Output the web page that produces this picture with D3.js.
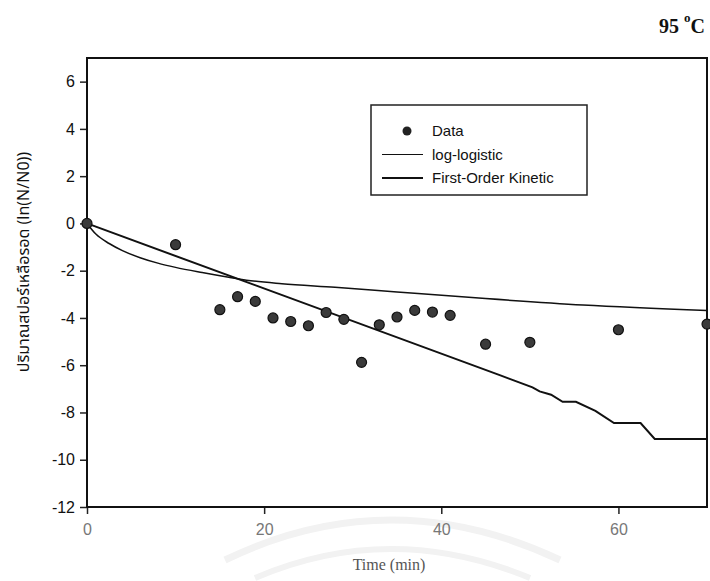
<!DOCTYPE html>
<html>
<head>
<meta charset="utf-8">
<script src="https://cdn.jsdelivr.net/npm/d3@7"></script>
<style>
  body { margin: 0; background: #fff; }
  svg { display: block; }
</style>
</head>
<body>
<div class="chart"></div>
<script>
// observed data (time in min, ln(N/N0))
const dataTime = [0, 10, 15, 17, 19, 21, 23, 25, 27, 29, 31, 33, 35, 37, 39, 41, 45, 50, 60, 70];
const dataLn   = [0, -0.9, -3.65, -3.1, -3.3, -4.0, -4.15, -4.33, -3.77, -4.06, -5.88, -4.29, -3.96, -3.68, -3.75, -3.89, -5.11, -5.03, -4.5, -4.26];

// log-logistic fit (thin line)
const logTime = [0, 1, 2.5, 4, 6, 8, 10, 13, 16, 18, 22, 28, 35, 45, 56, 70];
const logLn   = [0, -0.45, -0.85, -1.15, -1.45, -1.68, -1.86, -2.08, -2.28, -2.4, -2.55, -2.7, -2.9, -3.18, -3.45, -3.68];

// first-order kinetic fit (thicker line)
const foTime = [0, 46.6, 50.3, 51.1, 52.4, 53.7, 55.2, 57.4, 59.5, 62.5, 64.1, 70];
const foLn   = [0, -6.42, -6.94, -7.11, -7.25, -7.55, -7.55, -7.93, -8.45, -8.45, -9.12, -9.12];

const xTicks = [0, 20, 40, 60];
const yTicks = [-12, -10, -8, -6, -4, -2, 0, 2, 4, 6];

const W = 710, H = 581;
const margin = ({top: 58, right: 3, bottom: 74, left: 87});
const width = W - margin.left - margin.right,
      height = H - margin.top - margin.bottom;

const svg = d3.select(".chart").append("svg")
    .attr("width", W)
    .attr("height", H);

// faint watermark arcs
const wm = svg.append("g").attr("fill", "none").attr("stroke", "#f2f2f2");
wm.append("path").attr("d", "M 225 560 Q 390 480 560 560").attr("stroke-width", 7);
wm.append("path").attr("d", "M 255 578 Q 390 520 530 578").attr("stroke-width", 6);

const g = svg.append("g")
    .attr("transform", "translate(" + margin.left + "," + margin.top + ")");

const xScale = d3.scaleLinear().domain([0, 70]).range([0, width]);
const yScale = d3.scaleLinear().domain([-12, 7]).range([height, 0]);

// axes (plain hyphen for negatives like the original)
const xAxis = d3.axisBottom(xScale).tickValues(xTicks).tickSize(7).tickPadding(10)
    .tickFormat(d => String(d));
const yAxis = d3.axisLeft(yScale).tickValues(yTicks).tickSize(7).tickPadding(5)
    .tickFormat(d => String(d));

g.append("g")
    .attr("transform", "translate(0," + height + ")")
    .call(xAxis)
    .call(a => a.select(".domain").remove())
    .call(a => a.selectAll(".tick line").attr("stroke", "#222").attr("stroke-width", 1.5))
    .call(a => a.selectAll(".tick text")
        .attr("font-family", "Arial, 'Liberation Sans', sans-serif")
        .attr("font-size", 16)
        .attr("fill", "#777"));

g.append("g")
    .call(yAxis)
    .call(a => a.select(".domain").remove())
    .call(a => a.selectAll(".tick line").attr("stroke", "#222").attr("stroke-width", 1.5))
    .call(a => a.selectAll(".tick text")
        .attr("font-family", "Arial, 'Liberation Sans', sans-serif")
        .attr("font-size", 16)
        .attr("fill", "#111"));

// frame
g.append("rect")
    .attr("x", 0).attr("y", 0)
    .attr("width", width).attr("height", height)
    .attr("fill", "none")
    .attr("stroke", "#111")
    .attr("stroke-width", 2);

const line = d3.line()
    .x(d => xScale(d[0]))
    .y(d => yScale(d[1]));

// log-logistic
g.append("path")
    .datum(d3.zip(logTime, logLn))
    .attr("fill", "none")
    .attr("stroke", "#111")
    .attr("stroke-width", 1.5)
    .attr("d", line.curve(d3.curveMonotoneX));

// first-order kinetic
g.append("path")
    .datum(d3.zip(foTime, foLn))
    .attr("fill", "none")
    .attr("stroke", "#111")
    .attr("stroke-width", 2)
    .attr("d", d3.line().x(d => xScale(d[0])).y(d => yScale(d[1])));

// data points
g.append("g")
    .attr("fill", "#3a3a3a")
    .attr("stroke", "#111")
    .attr("stroke-width", 1.2)
  .selectAll("circle")
  .data(d3.zip(dataTime, dataLn))
  .join("circle")
    .attr("cx", d => xScale(d[0]))
    .attr("cy", d => yScale(d[1]))
    .attr("r", 5);

// legend
const lg = svg.append("g").attr("transform", "translate(371,105)");
lg.append("rect")
    .attr("width", 216).attr("height", 90)
    .attr("fill", "#fff")
    .attr("stroke", "#222")
    .attr("stroke-width", 1.5);
const legendItems = ["Data", "log-logistic", "First-Order Kinetic"];
legendItems.forEach((name, i) => {
  const y = 26 + i * 23.5;
  if (i === 0) {
    lg.append("circle").attr("cx", 36).attr("cy", y).attr("r", 4.5)
      .attr("fill", "#222");
  } else {
    lg.append("line").attr("x1", 11).attr("x2", 52).attr("y1", y).attr("y2", y)
      .attr("stroke", "#111").attr("stroke-width", i === 1 ? 1.2 : 2);
  }
  lg.append("text")
    .attr("x", 61).attr("y", y)
    .attr("dy", "0.35em")
    .attr("font-family", "Arial, 'Liberation Sans', sans-serif")
    .attr("font-size", 15)
    .attr("fill", "#111")
    .text(name);
});

// axis titles
svg.append("text")
    .attr("x", margin.left + width / 2 - 8)
    .attr("y", 570)
    .attr("text-anchor", "middle")
    .attr("font-family", "'Liberation Serif', 'Times New Roman', serif")
    .attr("font-size", 16)
    .attr("fill", "#555")
    .text("Time (min)");

svg.append("text")
    .attr("transform", "translate(29,262) rotate(-90)")
    .attr("text-anchor", "middle")
    .attr("font-family", "'Noto Sans Thai', 'Noto Sans', 'DejaVu Sans', sans-serif")
    .attr("font-size", 16)
    .attr("fill", "#111")
    .text("ปริมาณสปอร์เหลือรอด (ln(N/N0))");

// temperature label
const temp = svg.append("text")
    .attr("x", 705)
    .attr("y", 33)
    .attr("text-anchor", "end")
    .attr("font-family", "'Liberation Serif', 'Times New Roman', serif")
    .attr("font-weight", "bold")
    .attr("font-size", 20)
    .attr("fill", "#111");
temp.append("tspan").text("95 ");
temp.append("tspan").attr("dy", -11).attr("font-size", 13).text("o");
temp.append("tspan").attr("dy", 11).text("C");
</script>
</body>
</html>
